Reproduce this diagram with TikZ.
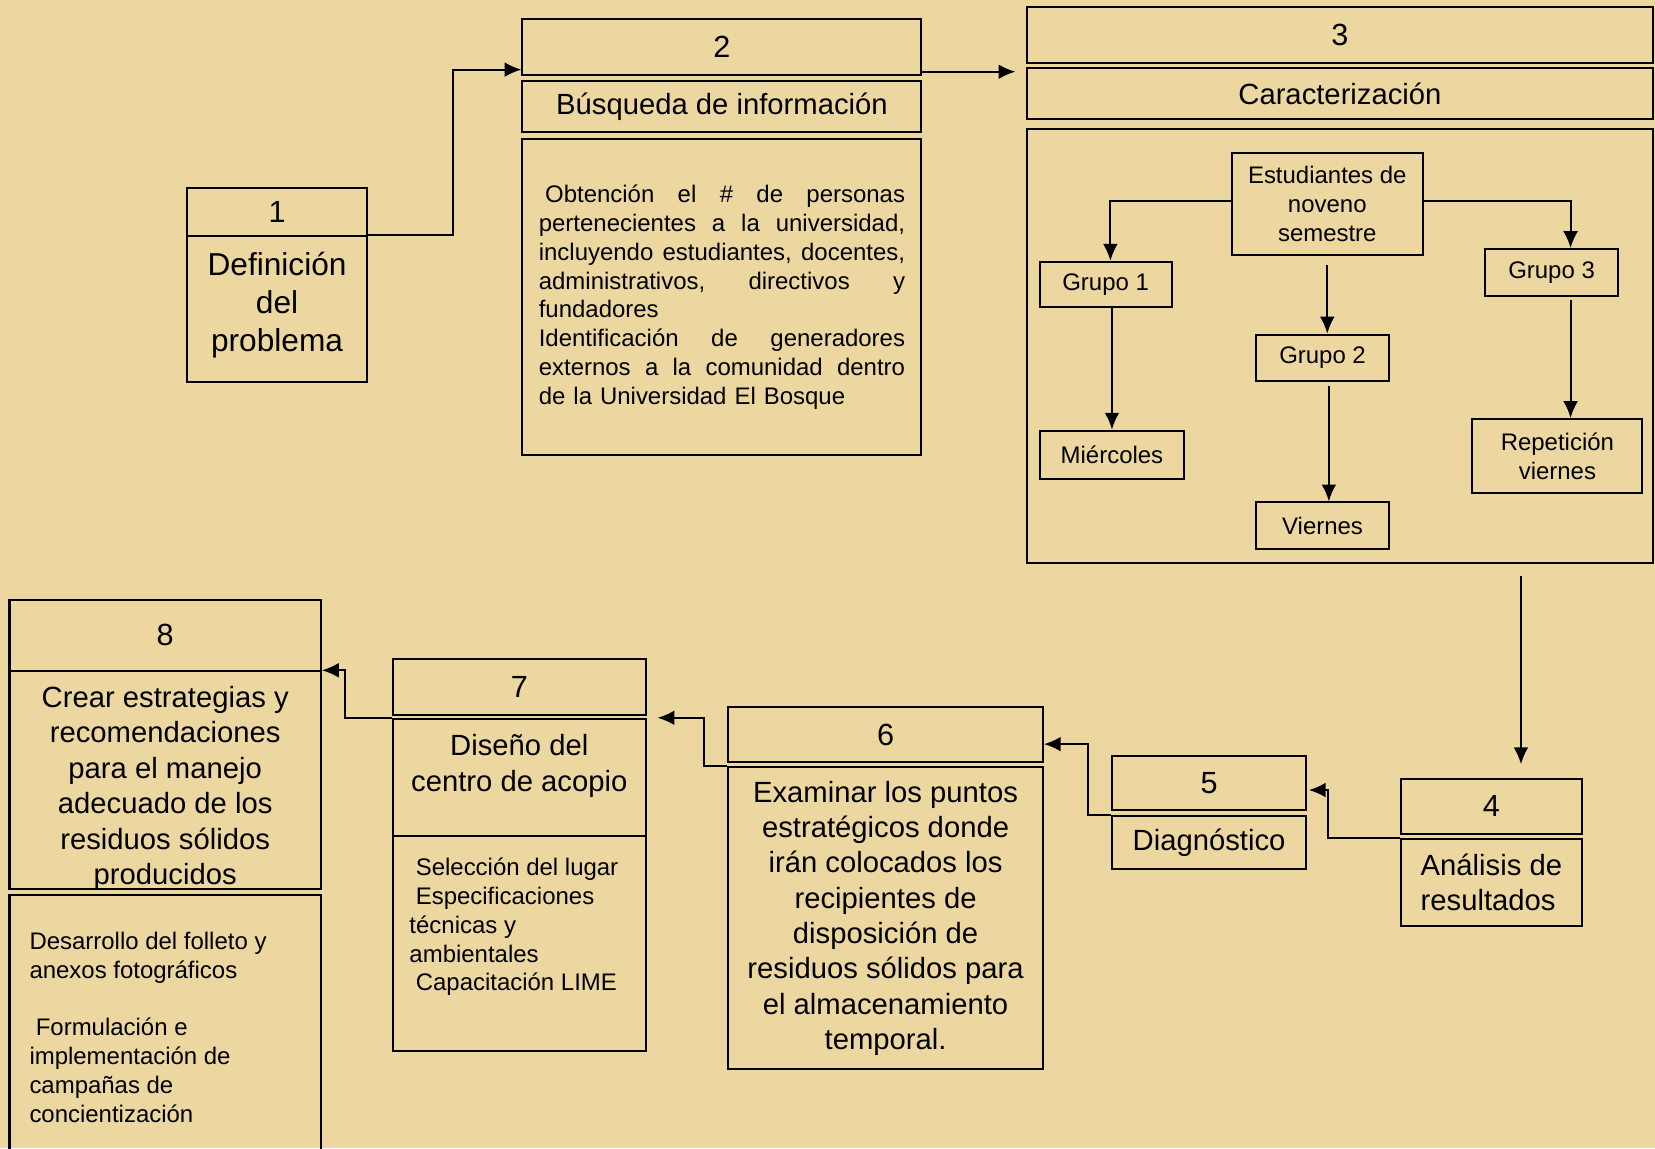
\documentclass[tikz,border=0pt]{standalone}
\usepackage{fontspec}
\setmainfont{Liberation Sans}
\usetikzlibrary{arrows.meta}
\definecolor{papiro}{RGB}{236,215,160}
\newcommand{\justa}[2][347pt]{\leavevmode\hbox to #1{#2}}
\begin{document}
\begin{tikzpicture}[x=1pt,y=-1pt,line width=1.9pt,
  caja/.style={draw,rectangle,inner sep=0pt,align=center},
  texto/.style={inner sep=0pt},
  num/.style={font=\fontsize{29}{34}\selectfont},
  grande/.style={font=\fontsize{27.7}{33.5}\selectfont},
  chica/.style={font=\fontsize{22.7}{27.3}\selectfont},
  flecha/.style={-{Latex[length=16pt,width=14pt]}}]

\fill[papiro] (0,0) rectangle (1568,1088);
\useasboundingbox (0,0) rectangle (1568,1088);

\node[caja,num,minimum width=171pt,minimum height=46pt] (n1) at (262.5,201) {1};
\node[caja,minimum width=171pt,minimum height=138pt] (d1) at (262.5,293) {};
\node[texto,align=center,font=\fontsize{30}{36}\selectfont] (d1txt) at (262.5,289) {Definición\\del\\problema};

\node[caja,num,minimum width=378pt,minimum height=53pt] (n2) at (684,44.5) {2};
\node[caja,grande,minimum width=378pt,minimum height=48pt] (t2) at (684,101) {Búsqueda de información};
\node[caja,chica,minimum width=378pt,minimum height=299pt,text width=347pt,align=left] (b2) at (684,281.5) {\justa{\hspace*{6pt}Obtención\hfill el\hfill \#\hfill de\hfill personas}\\
\justa{pertenecientes\hfill a\hfill la\hfill universidad,}\\
\justa{incluyendo\hfill estudiantes,\hfill docentes,}\\
\justa{administrativos,\hfill directivos\hfill y}\\
fundadores\\
\justa{Identificación\hfill de\hfill generadores}\\
\justa{externos\hfill a\hfill la\hfill comunidad\hfill dentro}\\
de la Universidad El Bosque};

\node[caja,num,minimum width=593pt,minimum height=53pt] (n3) at (1269.5,33.5) {3};
\node[caja,grande,minimum width=593pt,minimum height=49pt] (t3) at (1269.5,88.5) {Caracterización};
\node[caja,minimum width=593pt,minimum height=411pt] (b3) at (1269.5,327.5) {};

\node[caja,chica,minimum width=181pt,minimum height=97pt] (est) at (1257.5,193.5) {Estudiantes de\\noveno\\semestre};
\node[caja,chica,minimum width=125pt,minimum height=43pt] (g1) at (1047.5,269.5) {Grupo 1};
\node[caja,chica,minimum width=137pt,minimum height=46pt] (mie) at (1053.5,431) {Miércoles};
\node[caja,chica,minimum width=126pt,minimum height=44pt] (g2) at (1253,339) {Grupo 2};
\node[caja,chica,minimum width=126pt,minimum height=44pt] (vie) at (1253,498) {Viernes};
\node[caja,chica,minimum width=126pt,minimum height=44pt] (g3) at (1470,258) {Grupo 3};
\node[caja,chica,minimum width=161pt,minimum height=70pt] (rep) at (1475.5,432) {Repetición\\viernes};

\node[caja,num,minimum width=172pt,minimum height=52pt] (n4) at (1413,764) {4};
\node[caja,grande,minimum width=172pt,minimum height=82pt,align=left] (t4) at (1413,836) {Análisis de\\resultados};

\node[caja,num,minimum width=183pt,minimum height=51pt] (n5) at (1145.5,741.5) {5};
\node[caja,grande,minimum width=183pt,minimum height=50pt] (t5) at (1145.5,798) {Diagnóstico};

\node[caja,num,minimum width=298pt,minimum height=52pt] (n6) at (839,696) {6};
\node[caja,grande,minimum width=298pt,minimum height=286pt] (t6) at (839,870) {Examinar los puntos\\estratégicos donde\\irán colocados los\\recipientes de\\disposición de\\residuos sólidos para\\el almacenamiento\\temporal.};

\node[caja,num,minimum width=240pt,minimum height=53pt] (n7) at (492,650.5) {7};
\node[caja,minimum width=240pt,minimum height=111pt] (t7) at (492,736.5) {};
\node[texto,grande,align=center,anchor=north] (t7txt) at (492,695) {Diseño del\\centro de acopio};
\node[caja,minimum width=240pt,minimum height=204pt] (b7) at (492,894) {};
\node[texto,chica,align=left,anchor=north west] (b7txt) at (387,812) {\hspace*{6pt}Selección del lugar\\\hspace*{6pt}Especificaciones\\técnicas y\\ambientales\\\hspace*{6pt}Capacitación LIME};

\node[caja,num,minimum width=295pt,minimum height=68pt] (n8) at (156.5,602) {8};
\node[caja,minimum width=295pt,minimum height=206pt] (t8) at (156.5,739) {};
\node[texto,grande,align=center] (t8txt) at (156.5,747) {Crear estrategias y\\recomendaciones\\para el manejo\\adecuado de los\\residuos sólidos\\producidos};
\node[caja,minimum width=295pt,minimum height=260pt] (b8) at (156.5,978) {};
\node[texto,chica,align=left,anchor=north west] (b8txt) at (27,882) {Desarrollo del folleto y\\anexos fotográficos\\[27.3pt]\hspace*{6pt}Formulación e\\implementación de\\campañas de\\concientización};

\draw[flecha] (d1.north east) -- ++(80,0) |- ([yshift=6pt]n2.south west);
\draw[flecha,shorten >=10pt] ([yshift=4pt]n2.south east) -- ([yshift=4pt]n2.south east -| t3.west);

\draw[flecha] ([yshift=3.5pt]est.west) -| ([xshift=4.5pt]g1.north);
\draw[flecha] ([yshift=3.5pt]est.east) -| ([xshift=18pt]g3.north);
\draw[flecha,shorten <=8pt] (est.south) -- (est.south |- g2.north);
\draw[flecha] (g1.south -| mie.north) -- (mie.north);
\draw[flecha,shorten <=4pt] ([xshift=6pt]g2.south) -- ([xshift=6pt]vie.north);
\draw[flecha,shorten <=3pt] ([xshift=18pt]g3.south) -- ([xshift=12.5pt]rep.north);

\draw[flecha,shorten <=12pt,shorten >=13pt] ([xshift=28pt]n4.north |- b3.south) -- ([xshift=28pt]n4.north);
\draw[flecha,shorten >=2pt] (t4.north west) -- ++(-68,0) |- ([yshift=-7pt]n5.east);
\draw[flecha] (t5.north west) -- ++(-22,0) |- ([yshift=-9pt]n6.east);
\draw[flecha,shorten >=10pt] (t6.north west) -- ++(-22,0) |- (t7.north east);
\draw[flecha] (t7.north west) -- ++(-44,0) |- (t8.north east);
\end{tikzpicture}
\end{document}
